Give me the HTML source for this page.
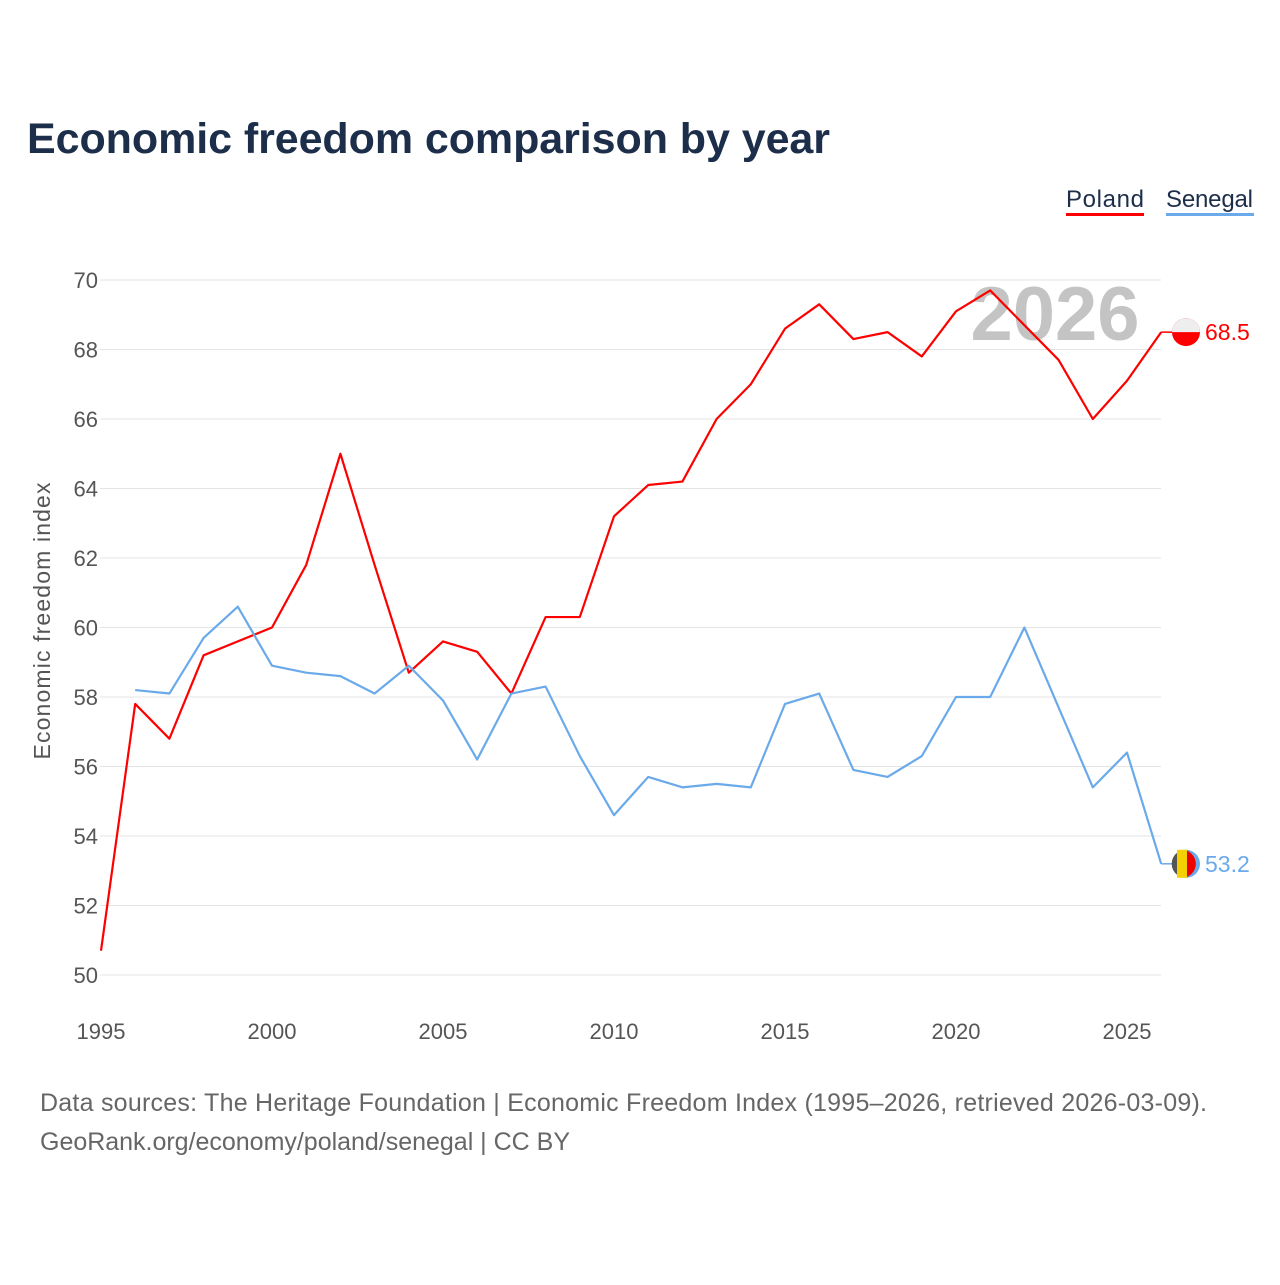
<!DOCTYPE html>
<html><head><meta charset="utf-8"><style>
body{margin:0;background:#fff;font-family:"Liberation Sans",sans-serif}
</style></head><body>
<svg id="chart" width="1280" height="1280" xmlns="http://www.w3.org/2000/svg">
<rect width="1280" height="1280" fill="#fff"/>
<text x="27" y="153" font-size="43" font-weight="bold" fill="#1c2e4a" textLength="803">Economic freedom comparison by year</text>
<g>
<text x="1066" y="207" font-size="24" fill="#1c2e4a" textLength="78">Poland</text>
<rect x="1066" y="213" width="78" height="3" fill="#f00"/>
<text x="1166" y="207" font-size="24" fill="#1c2e4a" textLength="87">Senegal</text>
<rect x="1166" y="213" width="88" height="3" fill="#6aaaea"/>
</g>
<g id="grid"></g>
<text x="1055" y="340" font-size="76" font-weight="bold" fill="#c4c4c4" text-anchor="middle">2026</text>
<text transform="translate(50,621) rotate(-90)" font-size="23" fill="#555" text-anchor="middle" textLength="277">Economic freedom index</text>
<g id="series"></g>
<text x="40" y="1111" font-size="25" fill="#666" textLength="1167">Data sources: The Heritage Foundation | Economic Freedom Index (1995–2026, retrieved 2026-03-09).</text>
<text x="40" y="1150" font-size="25" fill="#666" textLength="530">GeoRank.org/economy/poland/senegal | CC BY</text>
</svg>
<script>
const years=[1995,1996,1997,1998,1999,2000,2001,2002,2003,2004,2005,2006,2007,2008,2009,2010,2011,2012,2013,2014,2015,2016,2017,2018,2019,2020,2021,2022,2023,2024,2025,2026];
const poland=[50.7,57.8,56.8,59.2,59.6,60.0,61.8,65.0,61.8,58.7,59.6,59.3,58.1,60.3,60.3,63.2,64.1,64.2,66.0,67.0,68.6,69.3,68.3,68.5,67.8,69.1,69.7,68.7,67.7,66.0,67.1,68.5];
const senegal=[null,58.2,58.1,59.7,60.6,58.9,58.7,58.6,58.1,58.9,57.9,56.2,58.1,58.3,56.3,54.6,55.7,55.4,55.5,55.4,57.8,58.1,55.9,55.7,56.3,58.0,58.0,60.0,57.7,55.4,56.4,53.2];
const yTicks=[50,52,54,56,58,60,62,64,66,68,70];
const xTicks=[1995,2000,2005,2010,2015,2020,2025];
const NS="http://www.w3.org/2000/svg";
const X=y=>101+(y-1995)*34.2;
const Y=v=>975-(v-50)*34.75;
const grid=document.getElementById('grid'),ser=document.getElementById('series');
function mk(tag,attrs,parent){const e=document.createElementNS(NS,tag);for(const k in attrs)e.setAttribute(k,attrs[k]);parent.appendChild(e);return e;}
yTicks.forEach(t=>{
 const l=mk('line',{x1:100,x2:1161,y1:Y(t),y2:Y(t),stroke:'#e4e4e4','stroke-width':1},grid);
 
 
 const tx=mk('text',{x:98,y:Y(t)+8,'font-size':22,fill:'#555','text-anchor':'end'},grid);tx.textContent=t;
 
 
});
xTicks.forEach(t=>{
 const tx=mk('text',{x:X(t),y:1039,'font-size':22,fill:'#555','text-anchor':'middle'},grid);tx.textContent=t;
 
 
});
function line(vals,color,name){
 let d='';vals.forEach((v,i)=>{if(v==null)return;d+=(d?'L':'M')+X(years[i])+','+Y(v);});
 const p=mk('path',{d:d,fill:'none',stroke:color,'stroke-width':2.2,'stroke-linejoin':'round'},ser);
 
 
 const last=vals[vals.length-1],ly=Y(last);
 mk('line',{x1:X(2026),x2:1172,y1:ly,y2:ly,stroke:color,'stroke-width':1.5},ser);
 const c=mk('circle',{cx:1186,cy:ly,r:14,fill:color},ser);
 
 
 const t=mk('text',{x:1205,y:ly+8,'font-size':23,fill:color},ser);t.textContent=last.toFixed(1);
 
 
 return ly;
}
const py=line(poland,'#f00','poland');
mk('path',{d:`M1172,${py} a14,14 0 0 1 28,0 z`,fill:'#eee'},ser);
const sy=line(senegal,'#6aaaea','senegal');
mk('rect',{x:1177,y:sy-14,width:10,height:28,fill:'#f5d000'},ser);
mk('path',{d:`M1177,${sy-11} a14,14 0 0 0 0,22 z`,fill:'#555'},ser);
mk('path',{d:`M1187,${sy-13} a14,14 0 0 1 0,26 z`,fill:'#e00'},ser);
</script>
</body></html>
